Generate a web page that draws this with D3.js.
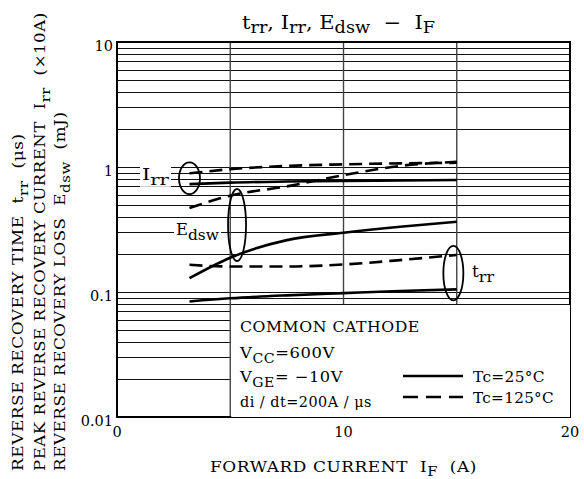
<!DOCTYPE html>
<html>
<head>
<meta charset="utf-8">
<script src="https://cdn.jsdelivr.net/npm/d3@7"></script>
<style>
  body { margin: 0; background: #fff; }
  text { font-family: "DejaVu Serif", serif; fill: #000; white-space: pre; }
</style>
</head>
<body>
<script>
// values (log y axis)
const forwardCurrent = [3.2, 5, 7.5, 10, 12.5, 15];
const trr25   = [0.084, 0.089, 0.094, 0.098, 0.102, 0.105];
const trr125  = [0.165, 0.160, 0.160, 0.166, 0.180, 0.198];
const irr25   = [0.73, 0.75, 0.765, 0.775, 0.78, 0.787];
const irr125  = [0.89, 0.96, 1.02, 1.05, 1.07, 1.08];
const edsw25  = [0.129, 0.188, 0.26, 0.298, 0.333, 0.365];
const edsw125 = [0.47, 0.59, 0.70, 0.86, 1.02, 1.10];

const xTicks = [0, 10, 20];
const yTicks = [0.01, 0.1, 1, 10];
const yTickLabels = ["0.01", "0.1", "1", "10"];
const conditions = [
  [["COMMON CATHODE", 0]],
  [["V", 0], ["CC", 1], ["=600V", 0]],
  [["V", 0], ["GE", 1], ["= \u221210V", 0]],
  [["di / dt=200A / \u03bcs", 0]]
];
const legendLabels = ["Tc=25\u00b0C", "Tc=125\u00b0C"];

let margin = null, width = null, height = null;
let svg = null, plot = null;
let x, y = null;

setupCanvasSize();
appendSvg("body");
setupScales();
appendGrid();
appendConditionBox();
appendFrame();
appendTicks();
appendCurves();
appendGroupMarks();
appendTitle();
appendAxisTitles();

function setupCanvasSize() {
  margin = {top: 42, left: 117, bottom: 62, right: 14};
  width = 584 - margin.left - margin.right;
  height = 479 - margin.top - margin.bottom;
}

function appendSvg(domElement) {
  svg = d3.select(domElement).append("svg")
    .attr("width", 584)
    .attr("height", 479);
  plot = svg.append("g")
    .attr("transform", `translate(${margin.left}, ${margin.top})`);
}

function setupScales() {
  x = d3.scaleLinear().domain([0, 20]).range([0, width]);
  y = d3.scaleLog().domain([0.01, 10]).range([height, 0]);
}

// text made of normal and subscript pieces
function richText(sel, parts, size, subSize, shift) {
  let cur = 0;
  parts.forEach(p => {
    const want = p[1] ? shift : 0;
    sel.append("tspan")
      .attr("font-size", p[1] ? subSize : size)
      .attr("dy", want - cur)
      .text(p[0]);
    cur = want;
  });
  return sel;
}

// the datasheet font is much wider: stretch the text to the measured length
function fitLength(sel, base, target, spacing) {
  sel.attr("letter-spacing", spacing);
  const len = sel.node().getComputedTextLength();
  sel.attr("transform", `${base} scale(${target / len}, 1)`);
}

function appendGrid() {
  const lines = [];
  [0.01, 0.1, 1].forEach(d => {
    for (let k = 1; k < 10; k++) lines.push(d * k);
  });
  plot.append("g").selectAll("line")
    .data(lines)
    .enter().append("line")
    .attr("x1", 0)
    .attr("x2", d => d < 0.079 ? x(5) : width)
    .attr("y1", d => Math.round(y(d)) + 0.5)
    .attr("y2", d => Math.round(y(d)) + 0.5)
    .attr("stroke", "#111")
    .attr("stroke-width", 1);

  plot.append("g").selectAll("line")
    .data([5, 10, 15])
    .enter().append("line")
    .attr("x1", d => x(d))
    .attr("x2", d => x(d))
    .attr("y1", 0)
    .attr("y2", d => d === 5 ? height : y(0.08))
    .attr("stroke", "#444")
    .attr("stroke-width", 1.4);
}

function appendConditionBox() {
  const box = svg.append("g");
  box.append("rect")
    .attr("x", margin.left + x(5) + 1)
    .attr("y", margin.top + Math.round(y(0.08)) + 1)
    .attr("width", width - x(5) - 1)
    .attr("height", height - Math.round(y(0.08)) - 1)
    .attr("fill", "#fff");

  const baselines = [332, 358, 382, 407];
  const widths = [180, 95, 103, 132];
  conditions.forEach((parts, i) => {
    const t = box.append("text").attr("font-size", 15);
    richText(t, parts, 15, 13, 5);
    fitLength(t, `translate(240, ${baselines[i]})`, widths[i], 0.5);
  });

  // legend
  const lx1 = margin.left + 286, lx2 = margin.left + 346;
  const ly = [376, 397];
  const lw = [72, 81];
  legendLabels.forEach((label, i) => {
    box.append("line")
      .attr("x1", lx1).attr("x2", lx2)
      .attr("y1", ly[i]).attr("y2", ly[i])
      .attr("stroke", "#000")
      .attr("stroke-width", 2.6)
      .attr("stroke-dasharray", i ? "15,8" : null);
    const t = box.append("text")
      .attr("font-size", 15)
      .text(label);
    fitLength(t, `translate(473, ${ly[i] + 6})`, lw[i], 0.3);
  });
}

function appendFrame() {
  plot.append("rect")
    .attr("x", 0).attr("y", 0)
    .attr("width", width).attr("height", height)
    .attr("fill", "none")
    .attr("stroke", "#000")
    .attr("stroke-width", 2);
}

function appendTicks() {
  plot.append("g").selectAll("text")
    .data(yTicks)
    .enter().append("text")
    .attr("x", -4)
    .attr("y", d => y(d) + 9)
    .attr("text-anchor", "end")
    .attr("font-size", 14.5)
    .text((d, i) => yTickLabels[i]);

  plot.append("g").selectAll("text")
    .data(xTicks)
    .enter().append("text")
    .attr("x", d => x(d))
    .attr("y", height + 20)
    .attr("text-anchor", "middle")
    .attr("font-size", 14.5)
    .text(d => d);
}

function appendCurves() {
  const series = [
    {values: trr25, dashed: false},
    {values: trr125, dashed: true},
    {values: irr25, dashed: false},
    {values: irr125, dashed: true},
    {values: edsw25, dashed: false},
    {values: edsw125, dashed: true}
  ];
  const line = d3.line()
    .x(d => x(d[0]))
    .y(d => y(d[1]))
    .curve(d3.curveMonotoneX);

  plot.append("g").selectAll("path")
    .data(series)
    .enter().append("path")
    .attr("d", s => line(forwardCurrent.map((f, i) => [f, s.values[i]])))
    .attr("fill", "none")
    .attr("stroke", "#000")
    .attr("stroke-width", 2.6)
    .attr("stroke-dasharray", s => s.dashed ? "13,7" : null);
}

// ellipses grouping the 25/125 degC pair of each quantity
function appendGroupMarks() {
  const marks = [
    {cx: x(3.2), top: y(irr125[0]) - 11, bottom: y(irr25[0]) + 10, rx: 10.5,
     parts: [["I", 0], ["rr", 1]], lx: 142, ly: margin.top + y(0.95) + 10, w: 27},
    {cx: x(5.3), top: y(0.667), bottom: y(0.177), rx: 9,
     parts: [["E", 0], ["dsw", 1]], lx: 176, ly: margin.top + y(0.3) + 3, w: 43},
    {cx: x(14.85), top: y(trr125[5]) - 9, bottom: y(trr25[5]) + 11, rx: 10,
     parts: [["t", 0], ["rr", 1]], lx: 472, ly: margin.top + y(0.145) + 5, w: 22}
  ];

  const g = svg.append("g");
  marks.forEach(m => {
    const bg = g.append("rect").attr("fill", "#fff");
    const t = g.append("text").attr("font-size", 16);
    richText(t, m.parts, 16, 15, 5);
    fitLength(t, `translate(${m.lx}, ${m.ly})`, m.w, 0);
    bg.attr("x", m.lx - 2).attr("y", m.ly - 13)
      .attr("width", m.w + 4).attr("height", 20);

    g.append("ellipse")
      .attr("cx", margin.left + m.cx)
      .attr("cy", margin.top + (m.top + m.bottom) / 2)
      .attr("rx", m.rx)
      .attr("ry", (m.bottom - m.top) / 2)
      .attr("fill", "none")
      .attr("stroke", "#000")
      .attr("stroke-width", 1.8);
  });
}

function appendTitle() {
  const t = svg.append("text").attr("font-size", 19);
  richText(t, [["t", 0], ["rr", 1], [", I", 0], ["rr", 1], [", E", 0], ["dsw", 1], ["  \u2212  I", 0], ["F", 1]], 19, 16, 4);
  fitLength(t, "translate(242, 29)", 193, 0);
}

function appendAxisTitles() {
  const t = svg.append("text").attr("font-size", 15);
  richText(t, [["FORWARD CURRENT  I", 0], ["F", 1], ["  (A)", 0]], 15, 13, 4);
  fitLength(t, "translate(210, 472)", 267, 0.5);

  const yLines = [
    {bx: 23, len: 338, parts: [["REVERSE RECOVERY TIME  t", 0], ["rr", 1], ["  (\u03bcs)", 0]]},
    {bx: 45, len: 459, parts: [["PEAK REVERSE RECOVERY CURRENT  I", 0], ["rr", 1], ["  (\u00d710A)", 0]]},
    {bx: 65, len: 360, parts: [["REVERSE RECOVERY LOSS  E", 0], ["dsw", 1], ["  (mJ)", 0]]}
  ];
  yLines.forEach(l => {
    const r = svg.append("text").attr("font-size", 14.5);
    richText(r, l.parts, 14.5, 13, 5);
    fitLength(r, `translate(${l.bx}, 471) rotate(-90)`, l.len, 0.5);
  });
}
</script>
</body>
</html>
